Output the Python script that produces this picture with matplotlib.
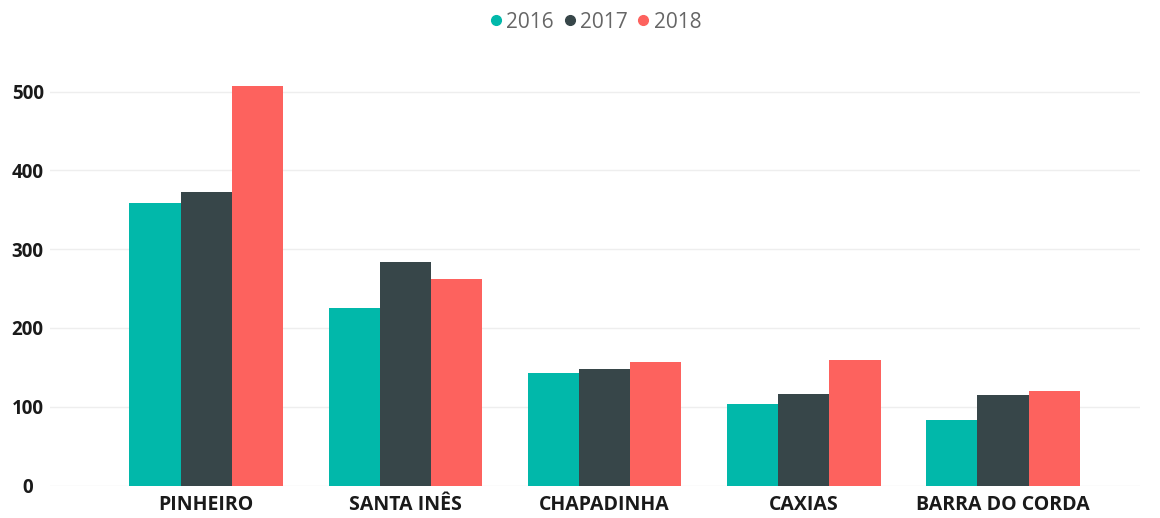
import numpy as np
import matplotlib.pyplot as plt
from matplotlib.lines import Line2D

cidades = ["PINHEIRO", "SANTA INÊS", "CHAPADINHA", "CAXIAS", "BARRA DO CORDA"]
anos = ["2016", "2017", "2018"]
v2016 = [359, 225, 143, 104, 83]
v2017 = [372, 284, 148, 116, 115]
v2018 = [507, 262, 157, 159, 120]
cores = ["#01B8AA", "#374649", "#FD625E"]

plt.rcParams["font.family"] = ["Open Sans", "DejaVu Sans"]

fig = plt.figure(figsize=(11.6, 5.18), dpi=100)
ax = fig.add_axes([50 / 1160, 0.0627, 1090 / 1160, 0.8214])

x = np.arange(len(cidades))
w = 0.257
for i, (vals, cor) in enumerate(zip([v2016, v2017, v2018], cores)):
    ax.bar(x + (i - 1) * w, vals, width=w, color=cor, zorder=3)

ax.set_xlim(-0.784, 4.688)
ax.set_ylim(0, 540)
ax.set_yticks([0, 100, 200, 300, 400, 500])
ax.grid(axis="y", color="#eeeeee", linewidth=1, zorder=0)
ax.set_axisbelow(True)
for s in ax.spines.values():
    s.set_visible(False)
ax.tick_params(axis="both", length=0)
ax.tick_params(axis="y", pad=16, labelsize=13.5, labelcolor="#1a1a1a")
ax.tick_params(axis="x", pad=7, labelsize=14, labelcolor="#1a1a1a")
ax.set_xticks(x)
ax.set_xticklabels(cidades, fontweight="bold")
for t in ax.get_yticklabels():
    t.set_fontweight("bold")
    t.set_ha("center")

handles = [Line2D([], [], marker="o", linestyle="", color=c, markersize=7) for c in cores]
leg = fig.legend(handles, anos, loc="center", bbox_to_anchor=(594 / 1160, 1 - 22 / 518),
                 ncol=3, frameon=False, fontsize=15, handletextpad=0.05,
                 columnspacing=0.3, handlelength=0.9, labelcolor="#666666")

fig.savefig("out.png", dpi=100)
